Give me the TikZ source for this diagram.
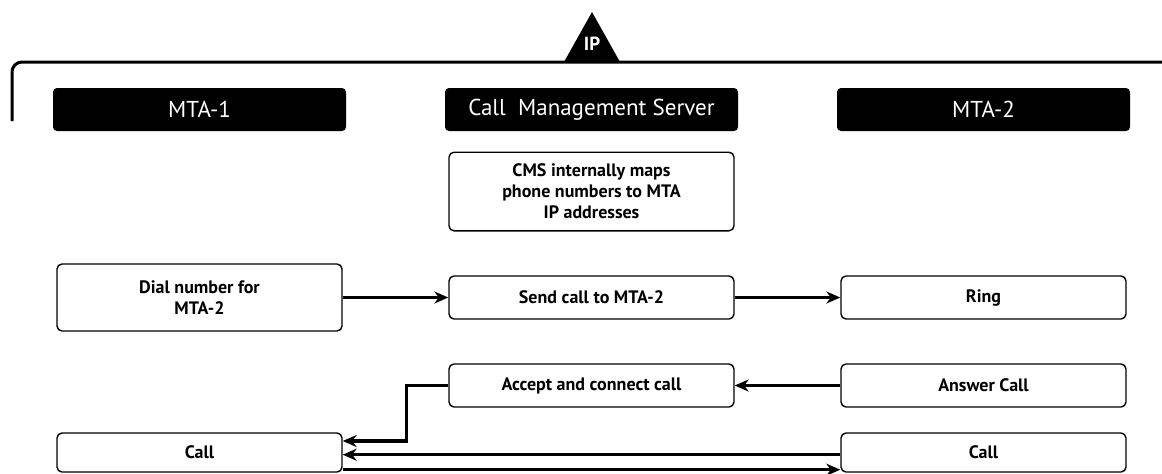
\documentclass[tikz,border=0pt]{standalone}
\usepackage{fontspec}
\setmainfont{PT Sans}
\usetikzlibrary{arrows.meta}

\begin{document}
\begin{tikzpicture}[x=0.5pt,y=-0.5pt]
	\useasboundingbox (0,0) rectangle (1162,473);

	% network line with the IP marker
	\draw [line width=1.5pt, rounded corners=5pt] (12,121) -- (12,62) -- (1162,62);
	\fill (564,62) -- (592,12) -- (620,62) -- cycle;
	\node [text=white, font=\bfseries\fontsize{9.5}{11}\selectfont] (ip) at (592,44) {IP};

	\begin{scope}[every node/.style={rectangle, rounded corners=2pt, fill=black, text=white,
			minimum width=146.5pt, minimum height=21.5pt, font=\fontsize{11.5}{13}\selectfont}]
		\node (mta1) at (199.5,109.5) {MTA-1};
		\node (cms) at (591.5,109.5) {Call~ Management Server};
		\node (mta2) at (983.5,109.5) {MTA-2};
	\end{scope}

	\begin{scope}[every node/.style={rectangle, rounded corners=2.5pt, draw, line width=0.7pt,
			minimum width=142.5pt, minimum height=21.5pt, align=center,
			font=\bfseries\fontsize{9}{10.5}\selectfont}]
		\node [minimum height=39.3pt] (maps) at (591.5,191.5) {CMS internally maps\\phone numbers to MTA\\IP addresses};
		\node [minimum height=33.5pt] (dial) at (199.5,297.5) {Dial number for\\MTA-2};
		\node (send) at (591.5,297.5) {Send call to MTA-2};
		\node (ring) at (983.5,297.5) {Ring};
		\node (accept) at (591.5,385.5) {Accept and connect call};
		\node (answer) at (983.5,385.5) {Answer Call};
		\node [minimum height=19.5pt] (callA) at (199.5,452.5) {Call};
		\node [minimum height=19.5pt] (callB) at (983.5,452.5) {Call};
	\end{scope}

	\begin{scope}[>={Stealth[black,length=7pt,width=6pt]},
			every edge/.style={draw=black, line width=1.7pt}]
		\path [->] (dial) edge (send);
		\path [->] (send) edge (ring);
		\path [->] (answer) edge (accept);
		\draw [->, line width=1.7pt] (accept.west) -- ++(-42,0) |- ([yshift=5.75pt]callA.east);
		\path [->] ([yshift=-1.1pt]callB.west) edge ([yshift=-1.1pt]callA.east);
		\path [->] ([yshift=-8.6pt]callA.east) edge ([yshift=-8.6pt]callB.west);
	\end{scope}
\end{tikzpicture}
\end{document}
